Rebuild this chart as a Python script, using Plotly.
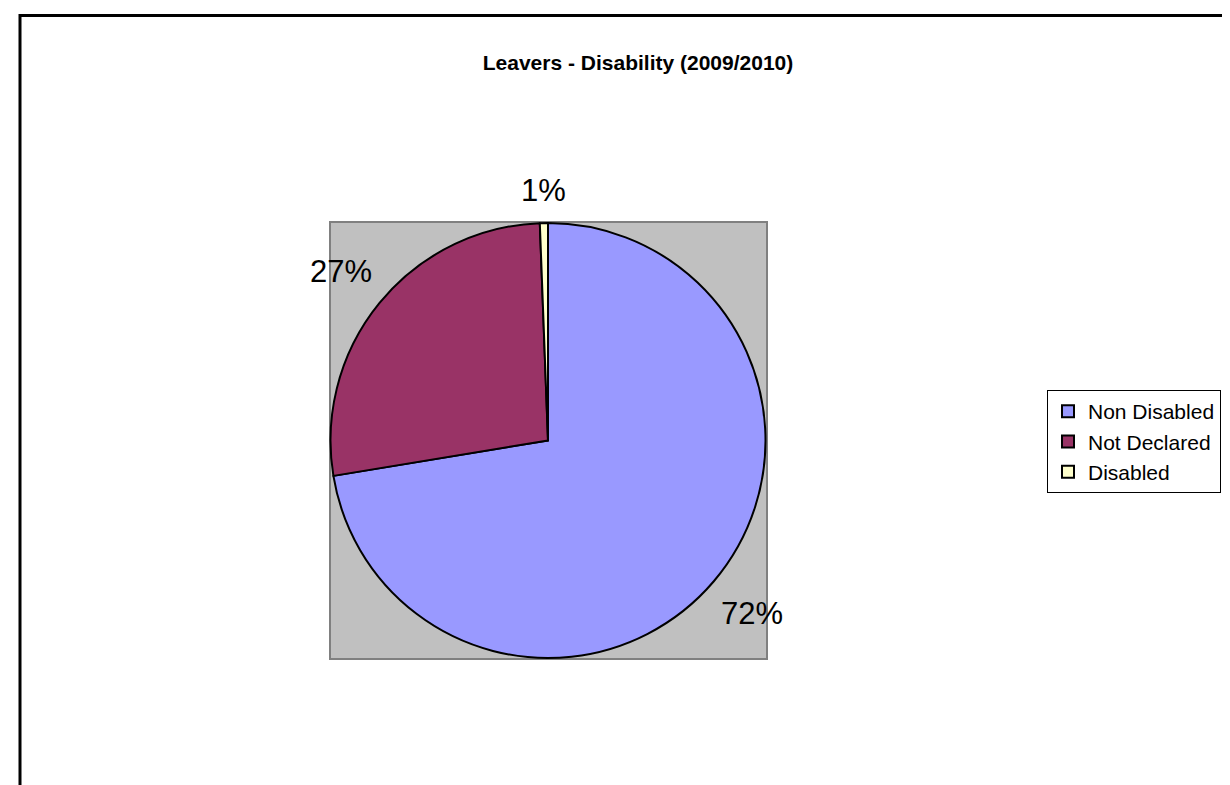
import math
import plotly.graph_objects as go

categories = ["Non Disabled", "Not Declared", "Disabled"]
values = [72.4, 27.0, 0.6]
colors = ["#9999FF", "#993366", "#FFFFCC"]

W, H = 1230, 785

def px(x):
    return x / W

def py(y):
    return 1 - y / H

# pie geometry (pixels) – the pie fills the grey square
PIE_L, PIE_R, PIE_T, PIE_B = 322, 758, 215, 650
CX, CY = (PIE_L + PIE_R) / 2, (PIE_T + PIE_B) / 2
R = (PIE_R - PIE_L) / 2
LABEL_SIZE = 31

fig = go.Figure()
fig.add_trace(go.Pie(
    labels=categories,
    values=values,
    sort=False,
    direction="clockwise",
    rotation=0,
    marker=dict(colors=colors, line=dict(color="black", width=2)),
    textinfo="none",
    hoverinfo="label+percent",
    domain=dict(x=[px(PIE_L), px(PIE_R)], y=[py(PIE_B), py(PIE_T)]),
    showlegend=True,
))

# percentage labels placed outside the slices, Excel style (derived from the data)
total = sum(values)
annotations = []
cum = 0.0
for v in values:
    frac = v / total
    mid = (cum + frac / 2) * 2 * math.pi
    cum += frac
    txt = f"{round(frac * 100)}%"
    ndig = len(txt) - 1
    half_w = 0.5 * LABEL_SIZE * (0.556 * ndig + 0.889)
    half_h = 16
    s, c = math.sin(mid), math.cos(mid)
    d = R + 15.5 + abs(s) * half_w + abs(c) * half_h
    lx, ly = CX + d * s, CY - d * c
    annotations.append(dict(
        x=px(lx), y=py(ly), xref="paper", yref="paper",
        text=txt, showarrow=False, xanchor="center", yanchor="middle",
        font=dict(family="Arial, Liberation Sans", size=LABEL_SIZE, color="black"),
    ))

fig.update_layout(
    width=W, height=H,
    margin=dict(l=0, r=0, t=0, b=0),
    paper_bgcolor="white",
    plot_bgcolor="white",
    title=dict(
        text="<b>Leavers - Disability (2009/2010)</b>",
        x=px(630), xanchor="center",
        y=py(55), yanchor="middle",
        font=dict(family="Arial, Liberation Sans", size=21, color="black"),
    ),
    legend=dict(
        x=px(1039), xanchor="left",
        y=py(382), yanchor="top",
        bordercolor="black", borderwidth=1,
        bgcolor="white",
        font=dict(family="Arial, Liberation Sans", size=21, color="black"),
    ),
    annotations=annotations,
    shapes=[
        dict(type="rect", xref="paper", yref="paper",
             x0=px(322), x1=px(759), y0=py(651), y1=py(214),
             fillcolor="#C0C0C0", line=dict(color="#808080", width=2), layer="below"),
        dict(type="rect", xref="paper", yref="paper",
             x0=px(12), x1=1.05, y0=-0.05, y1=py(7.5),
             fillcolor="rgba(0,0,0,0)", line=dict(color="black", width=3), layer="above"),
    ],
)

fig.write_html("out.html")
